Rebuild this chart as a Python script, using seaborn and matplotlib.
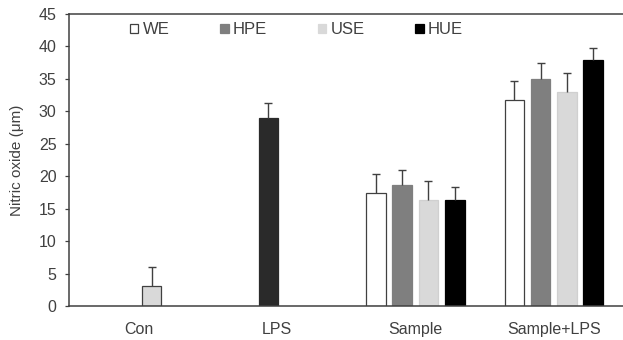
import numpy as np
import pandas as pd
import matplotlib
matplotlib.use("Agg")
import matplotlib.pyplot as plt
import seaborn as sns
from matplotlib.patches import Patch
from matplotlib.container import BarContainer

categories = ["Con", "LPS", "Sample", "Sample+LPS"]
series = ["WE", "HPE", "USE", "HUE"]
we_vals = [np.nan, np.nan, 17.4, 31.7]
hpe_vals = [np.nan, np.nan, 18.6, 35.0]
use_vals = [3.1, np.nan, 16.4, 32.9]
hue_vals = [np.nan, np.nan, 16.4, 37.9]
we_err = [np.nan, np.nan, 2.9, 3.0]
hpe_err = [np.nan, np.nan, 2.4, 2.5]
use_err = [2.85, np.nan, 2.9, 3.0]
hue_err = [np.nan, np.nan, 1.9, 1.85]
lps_vals = [np.nan, 28.9, np.nan, np.nan]
lps_err = [np.nan, 2.4, np.nan, np.nan]

colors = {"WE": "#ffffff", "HPE": "#7f7f7f", "USE": "#d9d9d9", "HUE": "#000000"}
edges = {"WE": "#404040", "HPE": "#7f7f7f", "USE": "#d0d0d0", "HUE": "#000000"}
lps_color = "#2a2a2a"
edge = "#404040"
text_c = "#404040"

rows = []
for s, vals, errs in zip(series, [we_vals, hpe_vals, use_vals, hue_vals],
                         [we_err, hpe_err, use_err, hue_err]):
    for c, v, e in zip(categories, vals, errs):
        rows.append({"cat": c, "series": s, "value": v, "err": e})
df = pd.DataFrame(rows)

sns.set_style("white")
plt.rcParams["font.family"] = ["Liberation Sans", "DejaVu Sans"]

fig = plt.figure(figsize=(6.23, 3.40), dpi=100)
ax = fig.add_axes([0.111, 0.1, 0.889, 0.859])

sns.barplot(data=df.dropna(subset=["value"]), x="cat", y="value", hue="series",
            order=categories, hue_order=series, palette=colors,
            width=0.76, gap=0.26, linewidth=0.9,
            errorbar=None, legend=False, ax=ax)
main_conts = [c for c in ax.containers if isinstance(c, BarContainer)]
for cont, s in zip(main_conts, series):
    for bar in cont:
        if bar is None:
            continue
        x = bar.get_x() + bar.get_width() / 2
        bar.set_edgecolor(edge if int(round(x)) == 0 else edges[s])

n_main = len(ax.patches)
lps_df = pd.DataFrame({"cat": categories, "value": lps_vals}).dropna()
sns.barplot(data=lps_df, x="cat", y="value", order=categories, color=lps_color,
            width=0.14, edgecolor=lps_color, linewidth=0.9, errorbar=None, ax=ax)
for p in ax.patches[n_main:]:
    p.set_x(p.get_x() - 0.062)
lps_conts = [c for c in ax.containers if isinstance(c, BarContainer)][len(main_conts):]


def add_err(x, h, e):
    if not (np.isfinite(h) and np.isfinite(e)):
        return
    _, caps, _ = ax.errorbar([x], [h], yerr=[[0], [e]], fmt="none",
                             ecolor=edge, elinewidth=1.0, capsize=3, capthick=1.0)
    caps[0].set_visible(False)


for cont, s in zip(main_conts, series):
    sub = df[df.series == s].set_index("cat")
    for bar in cont:
        if bar is None:
            continue
        x = bar.get_x() + bar.get_width() / 2
        idx = int(round(x))
        add_err(x, bar.get_height(), sub.loc[categories[idx], "err"])
for cont in lps_conts:
    for bar in cont:
        if bar is None:
            continue
        x = bar.get_x() + bar.get_width() / 2
        idx = int(round(x + 0.062))
        add_err(x, bar.get_height(), lps_err[idx])

ax.set_xlim(-0.5, 3.5)
ax.set_ylim(0, 45)
ax.set_yticks(range(0, 46, 5))
ax.set_xlabel("")
ax.set_ylabel("Nitric oxide (μm)", fontsize=11, color=text_c, labelpad=11)
ax.tick_params(axis="y", left=True, length=3, width=0.9, color=edge,
               labelsize=11.5, labelcolor=text_c, pad=6)
ax.tick_params(axis="x", bottom=False, labelsize=11.5, labelcolor=text_c, pad=8)
for side in ["left", "bottom", "top"]:
    ax.spines[side].set_visible(True)
    ax.spines[side].set_color(edge)
    ax.spines[side].set_linewidth(1.1)
ax.spines["right"].set_visible(False)

handles = [Patch(facecolor=colors[s], edgecolor=edge if s == "WE" else colors[s],
                 linewidth=0.9) for s in series]
leg = ax.legend(handles, series, loc="center left", bbox_to_anchor=(0.110, 0.946),
                ncol=4, frameon=False, fontsize=12, handlelength=0.5,
                handleheight=0.5, handletextpad=0.25, columnspacing=3.05,
                borderpad=0, borderaxespad=0)
for t in leg.get_texts():
    t.set_color(text_c)

fig.savefig("out.png", dpi=100)
